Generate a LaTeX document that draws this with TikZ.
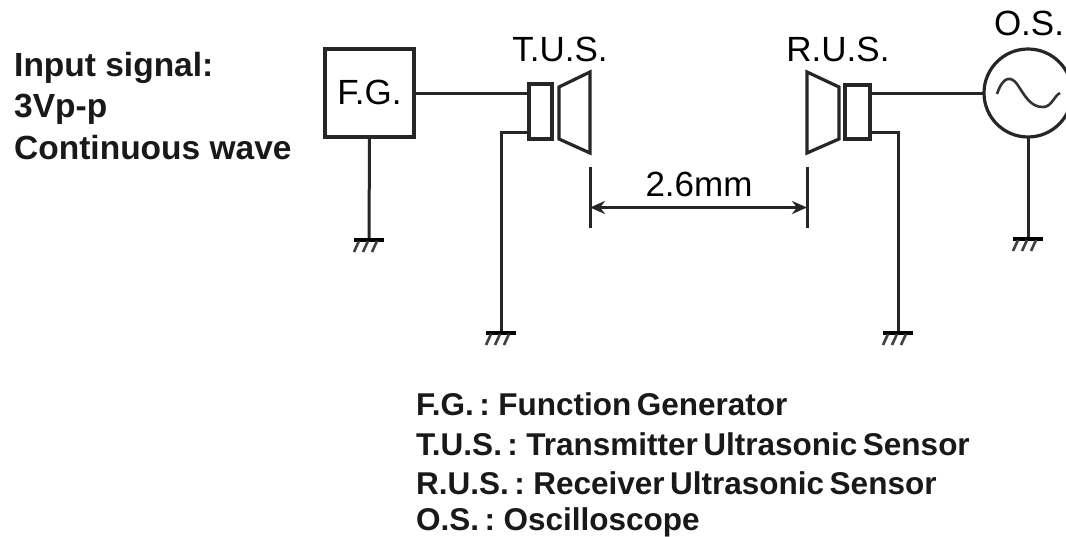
\documentclass[tikz,border=0pt]{standalone}
\usepackage{fontspec}
\setmainfont{Liberation Sans}
\usetikzlibrary{arrows.meta}
\newcommand{\tightwords}{\spaceskip=5.5pt\relax}
\tikzset{
  wire/.style={line width=3pt,draw=black!85},
  device/.style={draw=black!85,line width=3.2pt,fill=white,inner sep=0pt,outer sep=0pt},
  hatch/.style={line width=2.6pt,draw=black!75},
  gbar/.style={line width=3.2pt,draw=black},
  caption/.style={font=\fontsize{33.5}{36}\selectfont\bfseries,text=black!90,inner sep=0pt,anchor=base west},
  keyline/.style={font=\fontsize{31.5}{36}\selectfont\bfseries,text=black!90,inner sep=0pt,anchor=base west,execute at begin node=\tightwords},
  tag/.style={font=\fontsize{35}{38}\selectfont,text=black,inner sep=0pt,anchor=base}
}
\newcommand{\earthmark}[1]{%
  \draw[gbar] ([xshift=-15pt]#1) -- ([xshift=15pt]#1);
  \foreach \hx in {-10,-1,8}
    \draw[hatch] ([xshift=\hx pt,yshift=-1pt]#1) -- ([xshift={\hx-5 pt},yshift=-12pt]#1);
}
\begin{document}
\begin{tikzpicture}[x=1pt,y=-1pt]
\useasboundingbox (0,0) rectangle (1066,537);
\clip (0,0) rectangle (1066,537);
\fill[white] (0,0) rectangle (1066,537);
% devices
\node[device,minimum width=89pt,minimum height=88pt] (fg) at (369.5,93) {};
\node[tag] (fglabel) at (369.5,105) {F.G.};
\node[device,minimum width=23pt,minimum height=55pt] (tcoil) at (540.5,111.5) {};
\node[device,minimum width=25pt,minimum height=54pt] (rcoil) at (857.5,112) {};
\node[device,circle,minimum size=88pt] (os) at (1028,93) {};
% speakers
\draw[device,line join=miter] (559,87) -- (590,72) -- (590,153) -- (559,139) -- cycle;
\draw[device,line join=miter] (839,87) -- (807,72) -- (807,153) -- (839,139) -- cycle;
% sine
\draw[line width=2.6pt,draw=black!80] (997,94) .. controls (1003,76) and (1011,76) .. (1017,84)
  .. controls (1024,94) and (1030,108) .. (1044,107) .. controls (1052,106) and (1054,96) .. (1060,93);
% coordinates
\coordinate (g1) at (369,240);
\coordinate (tb) at (529,133);
\coordinate (tc) at (501,133);
\coordinate (g2) at (501,333);
\coordinate (rb) at (870,133);
\coordinate (rc) at (898,133);
\coordinate (g3) at (898,333);
\coordinate (g4) at (1028,239);
\coordinate (d1a) at (590,167);
\coordinate (d1b) at (590,228);
\coordinate (d2a) at (807,167);
\coordinate (d2b) at (807,228);
\coordinate (da) at (590,207.5);
\coordinate (db) at (807,207.5);
% wires
\draw[wire] (fg.east |- 0,94) -- (tcoil.west |- 0,94);
\draw[wire] (rcoil.east |- 0,94) -- (os.west |- 0,94);
\draw[wire] (fg.south) -- (g1);
\draw[wire] (tb) -- (tc) -- (g2);
\draw[wire] (rb) -- (rc) -- (g3);
\draw[wire] (os.south) -- (g4);
\earthmark{g1}
\earthmark{g2}
\earthmark{g3}
\earthmark{g4}
% dimension
\draw[wire] (d1a) -- (d1b);
\draw[wire] (d2a) -- (d2b);
\draw[wire,{Stealth[length=15pt,width=13pt]}-{Stealth[length=15pt,width=13pt]}] (da) -- (db);
% labels
\node[tag] (tus) at (560,62) {T.U.S.};
\node[tag] (rus) at (838,62) {R.U.S.};
\node[tag] (osl) at (1029,36) {O.S.};
\node[tag] (dim) at (699,197) {2.6mm};
\node[caption] (l1) at (14,77) {Input signal:};
\node[caption] (l2) at (14,118) {3Vp-p};
\node[caption] (l3) at (14,160) {Continuous wave};
\node[keyline] (k1) at (416,415) {F.G. : Function Generator};
\node[keyline] (k2) at (416,455) {T.U.S. : Transmitter Ultrasonic Sensor};
\node[keyline] (k3) at (416,494) {R.U.S. : Receiver Ultrasonic Sensor};
\node[keyline] (k4) at (416,530) {O.S. : Oscilloscope};
\end{tikzpicture}
\end{document}
